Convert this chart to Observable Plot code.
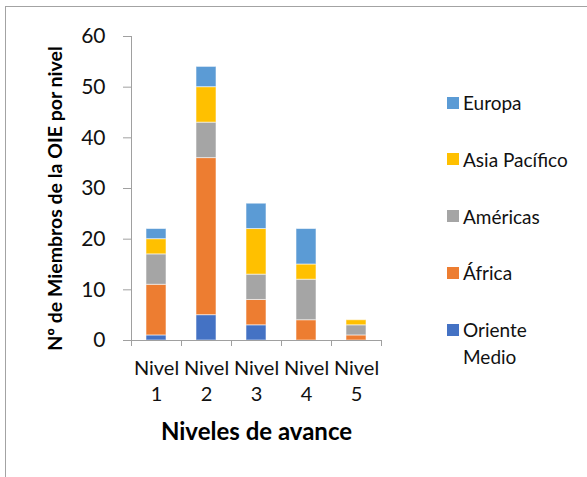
<!DOCTYPE html>
<html>
<head>
<meta charset="utf-8">
<script src="https://cdn.jsdelivr.net/npm/d3@7"></script>
<script src="https://cdn.jsdelivr.net/npm/@observablehq/plot@0.6"></script>
<style>
  body { margin: 0; background: #fff; }
  #chart { position: relative; width: 587px; height: 477px; overflow: hidden; font-family: Lato, sans-serif; }
  #chart svg { position: absolute; left: 0; top: 0; }
  #frame { position: absolute; left: 5px; top: 6px; width: 640px; height: 520px;
           border-left: 1.5px solid #a3a3a3; border-top: 1.5px solid #a3a3a3; }
  #legend { position: absolute; left: 447px; top: 89px; color: #111; font-size: 19px; }
  .item { display: flex; align-items: flex-start; height: 56.75px; }
  .swatch { width: 12px; height: 12px; margin-top: 7.5px; margin-right: 4px; flex: none; }
  .name { line-height: 27px; }
</style>
</head>
<body>
<div id="chart"><div id="frame"></div></div>
<script>
// Nivel de avance de los Miembros de la OIE, por región
const niveles = ["Nivel 1", "Nivel 2", "Nivel 3", "Nivel 4", "Nivel 5"];
const regiones = ["Oriente Medio", "África", "Américas", "Asia Pacífico", "Europa"];
const colores = ["#4472C4", "#ED7D31", "#A5A5A5", "#FFC000", "#5B9BD5"];

const orienteMedio = [1, 5, 3, 0, 0];
const africa = [10, 31, 5, 4, 1];
const americas = [6, 7, 5, 8, 2];
const asiaPacifico = [3, 7, 9, 3, 1];
const europa = [2, 4, 5, 7, 0];

const yTicks = [0, 10, 20, 30, 40, 50, 60];
const tituloY = "Nº de Miembros de la OIE por nivel";
const tituloX = "Niveles de avance";

// Long table: one row per (nivel, región), stacked bottom-up in región order
const series = [orienteMedio, africa, americas, asiaPacifico, europa];
const filas = regiones
  .flatMap((region, i) => niveles.map((nivel, j) => ({nivel, region, valor: series[i][j]})))
  .filter(d => d.valor > 0);

const ejeColor = "#a0a0a0";
const half = 25; // half of a band step, to place ticks on band boundaries

const chart = Plot.plot({
  width: 587,
  height: 477,
  marginTop: 36,
  marginRight: 206,
  marginBottom: 137,
  marginLeft: 131,
  style: {fontFamily: "Lato, sans-serif", color: "#111", background: "transparent", overflow: "visible"},
  x: {domain: niveles, paddingInner: 0.6, paddingOuter: 0.3},
  y: {domain: [0, 60]},
  color: {domain: regiones, range: colores},
  marks: [
    Plot.barY(filas, {
      x: "nivel", y: "valor", fill: "region",
      stroke: "white", strokeOpacity: 0.55, strokeWidth: 1
    }),
    // axis lines
    Plot.ruleY([0], {stroke: ejeColor}),
    Plot.ruleX([niveles[0]], {y1: 0, y2: 60, dx: -half, stroke: ejeColor}),
    // category tick marks on band boundaries
    Plot.ruleX(niveles, {y1: 0, y2: 0, dx: -half, insetBottom: -6, stroke: ejeColor}),
    Plot.ruleX([niveles[niveles.length - 1]], {y1: 0, y2: 0, dx: half, insetBottom: -6, stroke: ejeColor}),
    Plot.axisY({ticks: yTicks, tickSize: 8, tickPadding: 18, fontSize: 21, label: null, stroke: ejeColor, fill: "#111"}),
    Plot.axisX({tickSize: 0, tickPadding: 16, fontSize: 20, lineHeight: 1.3, label: null,
      tickFormat: d => d.replace(" ", "\n"), fill: "#111"}),
    // axis titles
    Plot.text([tituloY], {frameAnchor: "left", textAnchor: "middle", lineAnchor: "middle",
      rotate: -90, dx: -76, dy: 10, fontWeight: "bold", fontSize: 19.5, fill: "#000"}),
    Plot.text([tituloX], {frameAnchor: "bottom", textAnchor: "middle", lineAnchor: "middle",
      dy: 92, fontWeight: "bold", fontSize: 24, fill: "#000"})
  ]
});

const root = document.getElementById("chart");
root.appendChild(chart);

// Legend, top to bottom: last stacked series first
const legend = document.createElement("div");
legend.id = "legend";
regiones.slice().reverse().forEach((region) => {
  const item = document.createElement("div");
  item.className = "item";
  const sw = document.createElement("span");
  sw.className = "swatch";
  sw.style.background = colores[regiones.indexOf(region)];
  const name = document.createElement("span");
  name.className = "name";
  name.innerHTML = region === "Oriente Medio" ? "Oriente<br>Medio" : region;
  item.append(sw, name);
  legend.appendChild(item);
});
root.appendChild(legend);
</script>
</body>
</html>
